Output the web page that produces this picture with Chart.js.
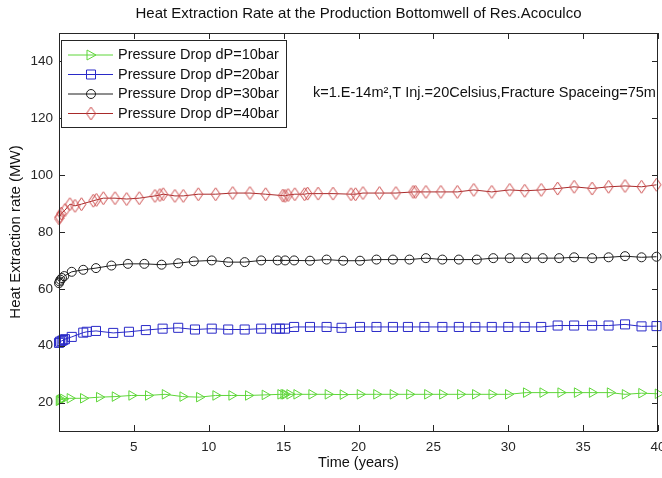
<!DOCTYPE html>
<html>
<head>
<meta charset="utf-8">
<script src="https://cdn.jsdelivr.net/npm/chart.js@4.4.0/dist/chart.umd.min.js"></script>
<style>
html, body { margin: 0; padding: 0; background: #fff; }
</style>
</head>
<body>
<canvas id="chart" width="662" height="478"></canvas>
<script>
// tick labels
const xTicks = [5, 10, 15, 20, 25, 30, 35, 40];
const yTicks = [20, 40, 60, 80, 100, 120, 140];

const labels = ['Pressure Drop dP=10bar', 'Pressure Drop dP=20bar', 'Pressure Drop dP=30bar', 'Pressure Drop dP=40bar'];

// dP=10bar
const tGreen = [0, 0.05, 0.12, 0.29, 0.73, 1.62, 2.69, 3.74, 4.85, 5.96, 7.08, 8.26, 9.37, 10.46, 11.53,
  12.64, 13.75, 14.8, 15.0, 15.1, 15.4, 15.87, 16.87, 17.96, 18.96, 20.1, 21.2, 22.3, 23.4, 24.6,
  25.6, 26.8, 27.8, 28.9, 30.0, 31.2, 32.3, 33.5, 34.6, 35.6, 36.8, 37.8, 38.9, 40.0];
const qGreen = [20.6, 20.9, 21.1, 21.3, 21.5, 21.5, 21.9, 22.1, 22.5, 22.5, 22.9, 22.1, 21.9, 22.5, 22.5,
  22.5, 22.7, 22.9, 22.9, 22.9, 22.9, 22.9, 22.9, 22.9, 22.8, 22.9, 22.9, 22.9, 22.9, 22.9,
  22.9, 22.9, 22.9, 22.9, 22.9, 23.5, 23.5, 23.5, 23.5, 23.5, 23.5, 22.9, 23.3, 23.1];

// dP=20bar
const tBlue = [0, 0.07, 0.18, 0.29, 0.4, 0.85, 1.62, 1.85, 2.47, 3.62, 4.67, 5.8, 6.92, 7.96, 9.08,
  10.2, 11.3, 12.4, 13.5, 14.5, 14.75, 15.09, 15.7, 16.76, 17.87, 18.87, 20.1, 21.2, 22.3, 23.3,
  24.4, 25.6, 26.7, 27.8, 28.9, 30.0, 31.1, 32.2, 33.3, 34.4, 35.6, 36.7, 37.8, 38.9, 39.9];
const qBlue = [41.0, 41.4, 41.7, 42.0, 42.3, 43.1, 44.6, 44.9, 45.2, 44.5, 44.9, 45.5, 46.0, 46.3, 45.7,
  46.0, 45.7, 45.7, 46.0, 46.0, 46.0, 46.0, 46.6, 46.6, 46.6, 46.3, 46.6, 46.6, 46.6, 46.6,
  46.6, 46.6, 46.6, 46.6, 46.6, 46.6, 46.6, 46.6, 47.1, 47.1, 47.1, 47.1, 47.5, 46.8, 46.9];

// dP=30bar
const tBlack = [0, 0.04, 0.1, 0.2, 0.35, 0.85, 1.62, 2.47, 3.5, 4.6, 5.7, 6.85, 7.96, 9.0, 10.2,
  11.3, 12.4, 13.5, 14.6, 15.1, 15.7, 16.76, 17.87, 18.98, 20.1, 21.2, 22.3, 23.4, 24.5, 25.6,
  26.7, 27.9, 29.0, 30.1, 31.2, 32.3, 33.4, 34.4, 35.6, 36.7, 37.8, 38.9, 39.9];
const qBlack = [62.0, 62.6, 63.2, 63.8, 64.5, 66.0, 66.7, 67.3, 68.2, 68.8, 68.8, 68.5, 69.0, 69.7, 70.0,
  69.4, 69.4, 70.0, 70.0, 70.0, 70.0, 69.9, 70.3, 69.9, 69.9, 70.3, 70.3, 70.3, 70.8, 70.3,
  70.3, 70.3, 70.8, 70.8, 70.8, 70.8, 70.8, 71.1, 70.8, 71.1, 71.5, 71.1, 71.3];

// dP=40bar
const tRed = [0, 0.05, 0.15, 0.4, 0.73, 1.07, 1.5, 2.29, 2.5, 2.96, 3.74, 4.52, 5.36, 6.41, 6.74,
  6.96, 7.74, 8.3, 9.3, 10.46, 11.6, 12.75, 13.8, 14.95, 15.1, 15.3, 15.75, 16.4, 16.6, 17.3,
  18.3, 19.5, 19.8, 20.3, 21.4, 22.5, 23.65, 23.8, 24.5, 25.5, 26.6, 27.7, 28.9, 30.1, 31.1,
  32.2, 33.3, 34.4, 35.6, 36.7, 37.8, 38.9, 39.9];
const qRed = [84.8, 85.3, 86.5, 87.7, 89.8, 89.2, 89.8, 91.0, 91.3, 91.9, 91.9, 91.6, 91.9, 92.7, 93.0,
  93.3, 92.7, 92.7, 93.3, 93.3, 93.7, 93.7, 93.3, 92.8, 92.7, 93.0, 93.3, 93.3, 93.5, 93.5,
  93.5, 93.3, 93.3, 93.7, 93.7, 93.7, 94.1, 94.1, 94.1, 94.1, 94.1, 94.8, 94.1, 94.8, 94.5,
  94.8, 95.3, 95.9, 95.3, 95.9, 96.2, 95.9, 96.6];

const green = '#5fd63a', blue = '#2a2ac8', black = '#1e1e1e', red = '#a82a2a', redMark = '#cc4a4a';
const axisColor = '#262626';
const fontFamily = '"Liberation Sans", Arial, sans-serif';

function pts(t, q) {
  return t.map((v, i) => ({ x: v, y: q[i] }));
}

// tall diamond marker (matlab 'd')
function diamond(color) {
  const c = document.createElement('canvas');
  c.width = 11; c.height = 15;
  const g = c.getContext('2d');
  g.strokeStyle = color;
  g.lineWidth = 1;
  g.beginPath();
  g.moveTo(5.5, 1); g.lineTo(10, 7.5); g.lineTo(5.5, 14); g.lineTo(1, 7.5);
  g.closePath();
  g.stroke();
  return c;
}
const diamondImg = diamond(redMark);

const frame = {
  id: 'frame',
  afterDraw(chart) {
    const { ctx, chartArea: a, scales: { x, y } } = chart;
    ctx.save();
    ctx.strokeStyle = axisColor;
    ctx.lineWidth = 1;
    ctx.strokeRect(a.left + 0.5, a.top + 0.5, a.right - a.left - 1, a.bottom - a.top);
    ctx.beginPath();
    xTicks.forEach(v => {
      const px = Math.round(x.getPixelForValue(v)) + 0.5;
      ctx.moveTo(px, a.bottom); ctx.lineTo(px, a.bottom - 6);
      ctx.moveTo(px, a.top); ctx.lineTo(px, a.top + 6);
    });
    yTicks.forEach(v => {
      const py = Math.round(y.getPixelForValue(v)) + 0.5;
      ctx.moveTo(a.left, py); ctx.lineTo(a.left + 6, py);
      ctx.moveTo(a.right, py); ctx.lineTo(a.right - 6, py);
    });
    ctx.stroke();

    // title
    ctx.fillStyle = '#111';
    ctx.font = '15px ' + fontFamily;
    ctx.textAlign = 'center';
    ctx.textBaseline = 'middle';
    ctx.fillText('Heat Extraction Rate at the Production Bottomwell of Res.Acoculco', (a.left + a.right) / 2, 14);

    // annotation
    ctx.font = '14.5px ' + fontFamily;
    ctx.textAlign = 'left';
    ctx.fillText('k=1.E-14m\u00b2,T Inj.=20Celsius,Fracture Spaceing=75m', 313, 93);

    // legend box
    const bx = 61, by = 40, bw = 225, bh = 87;
    ctx.fillStyle = '#fff';
    ctx.fillRect(bx, by, bw, bh);
    ctx.strokeRect(bx + 0.5, by + 0.5, bw, bh);
    const cols = [green, blue, black, red];
    labels.forEach((lab, i) => {
      const ly = by + 15 + i * 19.5;
      ctx.strokeStyle = cols[i];
      ctx.beginPath();
      ctx.moveTo(68, ly); ctx.lineTo(113, ly);
      ctx.stroke();
      const mx = 91;
      ctx.beginPath();
      if (i === 0) {
        ctx.moveTo(mx - 4, ly - 5); ctx.lineTo(mx + 5, ly); ctx.lineTo(mx - 4, ly + 5); ctx.closePath();
      } else if (i === 1) {
        ctx.rect(mx - 4.5, ly - 4.5, 9, 9);
      } else if (i === 2) {
        ctx.arc(mx, ly, 4.5, 0, Math.PI * 2);
      }
      ctx.stroke();
      if (i === 3) ctx.drawImage(diamondImg, mx - 5.5, ly - 7.5);
      ctx.fillStyle = '#111';
      ctx.fillText(lab, 118, ly);
    });
    ctx.restore();
  }
};

const ctx = document.getElementById('chart').getContext('2d');
new Chart(ctx, {
  type: 'line',
  data: {
    datasets: [
      { label: labels[0], data: pts(tGreen, qGreen), borderColor: green, pointBorderColor: green,
        pointStyle: 'triangle', rotation: 90, pointRadius: 5.5 },
      { label: labels[1], data: pts(tBlue, qBlue), borderColor: blue, pointBorderColor: blue,
        pointStyle: 'rect', pointRadius: 6.4 },
      { label: labels[2], data: pts(tBlack, qBlack), borderColor: black, pointBorderColor: black,
        pointStyle: 'circle', pointRadius: 4.5 },
      { label: labels[3], data: pts(tRed, qRed), borderColor: red, pointBorderColor: redMark,
        pointStyle: diamondImg, pointRadius: 5 }
    ]
  },
  options: {
    responsive: false,
    animation: false,
    devicePixelRatio: 1,
    layout: { autoPadding: false, padding: { top: 33, right: 4, left: 0, bottom: 0 } },
    datasets: {
      line: {
        borderWidth: 1,
        pointBorderWidth: 1,
        pointBackgroundColor: 'rgba(0,0,0,0)',
        tension: 0,
        clip: false
      }
    },
    plugins: {
      legend: { display: false },
      tooltip: { enabled: false }
    },
    scales: {
      x: {
        type: 'linear',
        min: 0, max: 40,
        grid: { display: false, drawTicks: false },
        border: { display: false },
        afterBuildTicks: s => { s.ticks = xTicks.map(v => ({ value: v })); },
        afterFit: s => { s.height = 47; s.paddingRight = 0; s.paddingLeft = 0; },
        ticks: { color: axisColor, font: { family: fontFamily, size: 13.5 }, padding: 8, maxRotation: 0 },
        title: { display: true, text: 'Time (years)', color: '#111',
          font: { family: fontFamily, size: 14.5 }, padding: { top: 0, bottom: 6 } }
      },
      y: {
        type: 'linear',
        min: 10, max: 150,
        grid: { display: false, drawTicks: false },
        border: { display: false },
        afterBuildTicks: s => { s.ticks = yTicks.map(v => ({ value: v })); },
        afterFit: s => { s.width = 59; },
        ticks: { color: axisColor, font: { family: fontFamily, size: 13.5 }, padding: 6 },
        title: { display: true, text: 'Heat Extraction rate (MW)', color: '#111',
          font: { family: fontFamily, size: 15 }, padding: { top: 7, bottom: 0 } }
      }
    }
  },
  plugins: [frame]
});
</script>
</body>
</html>
